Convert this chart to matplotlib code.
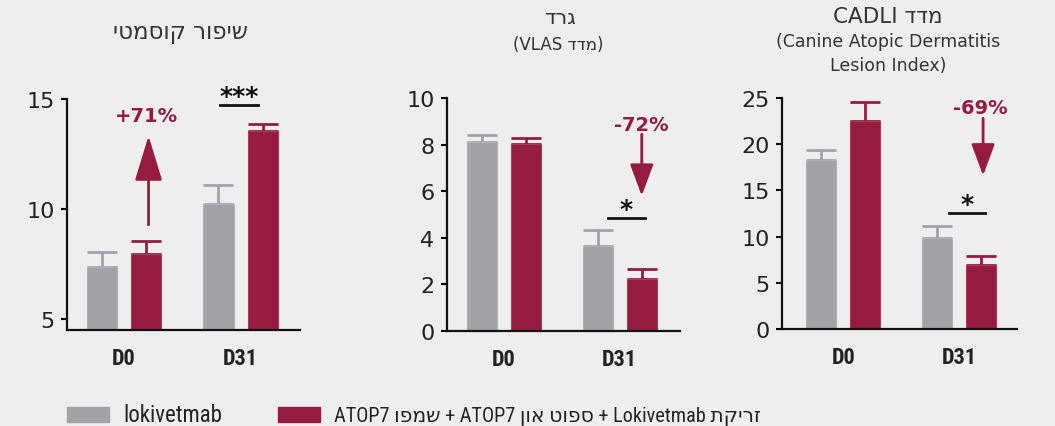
import re
import numpy as np
import matplotlib
matplotlib.use("Agg")
import matplotlib.pyplot as plt
from matplotlib import font_manager
from matplotlib.patches import Rectangle

# ---- data ----
days = ["D0", "D31"]
label_lokivetmab = "lokivetmab"
label_atop7 = "זריקת Lokivetmab + ספוט און ATOP7 + שמפו ATOP7"

cosmetic_lok = [7.35, 10.25]
cosmetic_lok_err = [0.7, 0.85]
cosmetic_atop = [7.95, 13.55]
cosmetic_atop_err = [0.6, 0.33]

vlas_lok = [8.1, 3.65]
vlas_lok_err = [0.3, 0.68]
vlas_atop = [8.02, 2.25]
vlas_atop_err = [0.28, 0.42]

cadli_lok = [18.3, 9.85]
cadli_lok_err = [1.1, 1.35]
cadli_atop = [22.55, 6.95]
cadli_atop_err = [2.0, 0.9]

BG = "#eeeeee"
GRAY = "#a3a2a7"
RED = "#961b40"
TXT = "#333333"

W, H = 1055, 427


def rtl(text):
    """crude visual reordering for a right-to-left (Hebrew) line"""
    tokens = re.findall(r"[A-Za-z0-9]+|[\u0590-\u05FF]+|\s+|.", text)
    out = []
    for t in reversed(tokens):
        if re.match(r"[\u0590-\u05FF]", t):
            out.append(t[::-1])
        elif t == "(":
            out.append(")")
        elif t == ")":
            out.append("(")
        else:
            out.append(t)
    return "".join(out)


names = {f.name for f in font_manager.fontManager.ttflist}
narrow = next((n for n in ["Liberation Sans Narrow", "Roboto Condensed",
                           "Open Sans Condensed"] if n in names), "DejaVu Sans")
NARROW = [narrow, "DejaVu Sans"]

plt.rcParams["font.family"] = ["DejaVu Sans"]

fig = plt.figure(figsize=(W / 100, H / 100), dpi=100, facecolor=BG)


def px_axes(left, right, top, bottom):
    return fig.add_axes([left / W, 1 - bottom / H, (right - left) / W, (bottom - top) / H])


def fig_text(x, y, s, **kw):
    fig.text(x / W, 1 - y / H, s, **kw)


def draw_panel(ax, lok, lok_err, atop, atop_err, ylim, yticks, xlim):
    x = np.arange(len(days))
    off, width = 0.19, 0.26
    ax.set_facecolor(BG)
    ax.bar(x - off, lok, width, color=GRAY, edgecolor="#b3b2b6", linewidth=0.8, zorder=2)
    ax.bar(x + off, atop, width, color=RED, edgecolor="#a83d5c", linewidth=0.8, zorder=2)
    ax.errorbar(x - off, lok, yerr=[np.zeros(len(lok)), lok_err], fmt="none",
                ecolor=GRAY, elinewidth=2, capsize=11, capthick=2, zorder=1)
    ax.errorbar(x + off, atop, yerr=[np.zeros(len(atop)), atop_err], fmt="none",
                ecolor=RED, elinewidth=2, capsize=11, capthick=2, zorder=1)
    ax.set_xlim(*xlim)
    ax.set_ylim(*ylim)
    ax.set_yticks(yticks)
    ax.set_xticks(x)
    ax.set_xticklabels(days)
    for lab in ax.get_xticklabels():
        lab.set_family(NARROW)
        lab.set_fontsize(16)
        lab.set_fontweight("bold")
        lab.set_color("#222222")
    ax.tick_params(axis="y", direction="out", length=4, width=1.5, pad=5,
                   labelsize=16, labelcolor="#222222")
    ax.tick_params(axis="x", length=0, pad=12.5)
    for side in ["top", "right"]:
        ax.spines[side].set_visible(False)
    for side in ["left", "bottom"]:
        ax.spines[side].set_linewidth(1.6)
        ax.spines[side].set_color("#111111")


def arrow(ax, x, y_from, y_to, hl, hw):
    ax.annotate("", xy=(x, y_to), xytext=(x, y_from), annotation_clip=False,
                arrowprops=dict(arrowstyle=f"-|>,head_length={hl},head_width={hw}",
                                color=RED, lw=2, shrinkA=0, shrinkB=0))


def signif(ax, stars, x0, x1, y):
    ax.plot([x0, x1], [y, y], color="#111111", lw=2, clip_on=False)
    ax.annotate(stars, xy=((x0 + x1) / 2, y), xytext=(0, 1.5), textcoords="offset points",
                ha="center", va="baseline", fontsize=18, fontweight="bold",
                color="#111111", annotation_clip=False)


# ---- panel 1: cosmetic improvement ----
ax1 = px_axes(67, 300, 100, 331)
draw_panel(ax1, cosmetic_lok, cosmetic_lok_err, cosmetic_atop, cosmetic_atop_err,
           (4.5, 15), [5, 10, 15], (-0.49, 1.51))
ax1.text(0.19, 14.23, "+71%", ha="center", va="center", fontsize=14,
         fontweight="bold", color=RED)
arrow(ax1, 0.21, 9.28, 13.33, 2.8, 0.85)
signif(ax1, "***", 0.82, 1.15, 14.73)
fig_text(180, 32, rtl("שיפור קוסמטי"), ha="center", va="center", fontsize=16.5, color=TXT)

# ---- panel 2: itching (VLAS) ----
ax2 = px_axes(447, 680, 99, 332)
draw_panel(ax2, vlas_lok, vlas_lok_err, vlas_atop, vlas_atop_err,
           (0, 10), [0, 2, 4, 6, 8, 10], (-0.49, 1.52))
ax2.text(1.19, 8.88, "-72%", ha="center", va="center", fontsize=14,
         fontweight="bold", color=RED)
arrow(ax2, 1.19, 8.45, 5.8, 1.95, 0.72)
signif(ax2, "*", 0.90, 1.215, 4.83)
fig_text(560, 18, rtl("גרד"), ha="center", va="center", fontsize=15, color=TXT)
fig_text(558, 45, rtl("(מדד VLAS)"), ha="center", va="center", fontsize=12, color=TXT)

# ---- panel 3: CADLI ----
ax3 = px_axes(782, 1017, 99, 330)
draw_panel(ax3, cadli_lok, cadli_lok_err, cadli_atop, cadli_atop_err,
           (0, 25), [0, 5, 10, 15, 20, 25], (-0.53, 1.5))
ax3.text(1.184, 24.0, "-69%", ha="center", va="center", fontsize=14,
         fontweight="bold", color=RED)
arrow(ax3, 1.207, 22.8, 16.6, 1.95, 0.72)
signif(ax3, "*", 0.91, 1.227, 12.57)
fig_text(888, 17, rtl("מדד CADLI"), ha="center", va="center", fontsize=15.5, color=TXT)
fig_text(888, 42, "(Canine Atopic Dermatitis", ha="center", va="center", fontsize=12.5, color=TXT)
fig_text(888, 66, "Lesion Index)", ha="center", va="center", fontsize=12.5, color=TXT)

# ---- legend ----
for (x0, x1), col, lab, fs in [((67, 109), GRAY, label_lokivetmab, 16.5),
                               ((278, 320), RED, rtl(label_atop7), 14.6)]:
    fig.patches.append(Rectangle((x0 / W, 1 - 423 / H), (x1 - x0) / W, 15 / H,
                                 transform=fig.transFigure, color=col))
    fig_text(x1 + 14, 422, lab, ha="left", va="baseline", fontsize=fs,
             family=NARROW, color="#222222")

fig.savefig("out.png", dpi=100, facecolor=BG)
